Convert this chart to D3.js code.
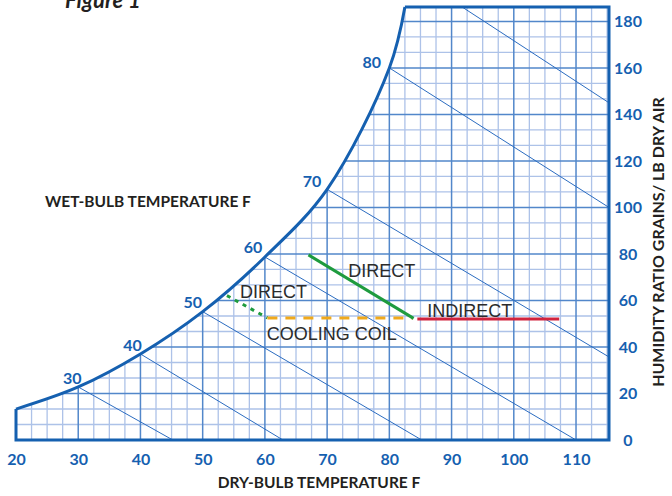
<!DOCTYPE html>
<html><head><meta charset="utf-8">
<script src="https://cdn.jsdelivr.net/npm/d3@7"></script>
<style>
html,body{margin:0;padding:0;background:#fff;}
svg{display:block;}
</style></head>
<body>
<svg id="chart" width="672" height="496"></svg>
<script>
// ---------- data ----------
const xTicks = [20,30,40,50,60,70,80,90,100,110];
const yTicks = [0,20,40,60,80,100,120,140,160,180];
const xDomain = [20,115.3];
const yDomain = [0,186.2];
// saturation curve (dry-bulb F, grains/lb)
const satDB     = [20,30,40,50,60,70,80,82.5];
const satGrains = [13.3,22.8,37,55.2,78.7,107.8,160,186.2];
// wet-bulb lines: start on saturation curve at wbTemps, end points
const wbTemps     = [30,40,50,60,70,80];
const wbEndDB     = [45.2,62.9,85.2,110,115.3,115.3];
const wbEndGrains = [0,0,0,0,35.7,100];
// extra wet-bulb line entering from top
const extraWbDB     = [91.7,115.3];
const extraWbGrains = [186.2,145];
// processes
const processNames  = ["DIRECT","COOLING COIL","DIRECT","INDIRECT"];
const processStartDB = [53.9,60.4,67.0,84.5];
const processStartGr = [62.1,52.5,79.6,52.0];
const processEndDB   = [60.4,83.8,83.9,107.3];
const processEndGr   = [52.5,52.5,52.3,52.0];
const processLabelDB = [56.0,60.3,73.4,86.1];
const processLabelGr = [61.1,43.0,70.1,52.9];
const processColors  = ["#1e9b3e","#f0a91c","#1e9b3e","#d1233d"];
const processDash    = ["4,5","10,8",null,null];

// ---------- drawing ----------
const svg = d3.select("#chart");
const BLUE = "#1560b0";
const x = d3.scaleLinear().domain(xDomain).range([16,609]);
const y = d3.scaleLinear().domain(yDomain).range([440,7]);

const satPts = satDB.map((d,i)=>[d,satGrains[i]]);
const satLine = d3.line().x(d=>x(d[0])).y(d=>y(d[1])).curve(d3.curveCatmullRom.alpha(0.5));
const satPath = satLine(satPts);
const areaPath = satPath + `L${x(xDomain[1])},${y(yDomain[1])}L${x(xDomain[1])},${y(0)}L${x(xDomain[0])},${y(0)}Z`;

svg.append("defs").append("clipPath").attr("id","area")
  .append("path").attr("d", areaPath);

const grid = svg.append("g").attr("clip-path","url(#area)");
// minor grid
const vMinor = d3.range(20, 115.3, 2.5).filter(v => v % 10 !== 0);
const hMinor = d3.range(0, 186.2, 20/3).filter((v,i) => i % 3 !== 0);
grid.selectAll(".vmin").data(vMinor).join("line")
  .attr("x1",d=>x(d)).attr("x2",d=>x(d)).attr("y1",y(0)).attr("y2",y(yDomain[1]))
  .attr("stroke","#adc2e8").attr("stroke-width",1.3);
grid.selectAll(".hmin").data(hMinor).join("line")
  .attr("y1",d=>y(d)).attr("y2",d=>y(d)).attr("x1",x(xDomain[0])).attr("x2",x(xDomain[1]))
  .attr("stroke","#adc2e8").attr("stroke-width",1.3);
// major grid
grid.selectAll(".vmaj").data(xTicks).join("line")
  .attr("x1",d=>x(d)).attr("x2",d=>x(d)).attr("y1",y(0)).attr("y2",y(yDomain[1]))
  .attr("stroke","#5287ca").attr("stroke-width",1.5);
grid.selectAll(".hmaj").data(yTicks).join("line")
  .attr("y1",d=>y(d)).attr("y2",d=>y(d)).attr("x1",x(xDomain[0])).attr("x2",x(xDomain[1]))
  .attr("stroke","#5287ca").attr("stroke-width",1.5);
// wet-bulb lines
const wbLines = wbTemps.map((t,i)=>({x1:t, y1:satGrains[satDB.indexOf(t)], x2:wbEndDB[i], y2:wbEndGrains[i]}));
wbLines.push({x1:extraWbDB[0], y1:extraWbGrains[0], x2:extraWbDB[1], y2:extraWbGrains[1]});
grid.selectAll(".wb").data(wbLines).join("line")
  .attr("x1",d=>x(d.x1)).attr("y1",d=>y(d.y1)).attr("x2",d=>x(d.x2)).attr("y2",d=>y(d.y2))
  .attr("stroke","#2b6cc0").attr("stroke-width",1);

// border + saturation curve
svg.append("path").attr("d", satPath).attr("fill","none").attr("stroke",BLUE).attr("stroke-width",3);
svg.append("path")
  .attr("d", `M${x(satDB[satDB.length-1])},${y(yDomain[1])}L${x(xDomain[1])},${y(yDomain[1])}L${x(xDomain[1])},${y(0)}L${x(xDomain[0])},${y(0)}L${x(xDomain[0])},${y(satGrains[0])}`)
  .attr("fill","none").attr("stroke",BLUE).attr("stroke-width",3).attr("stroke-linejoin","miter");

// wet-bulb labels
wbTemps.forEach((t,i)=>{
  const k = satDB.indexOf(t);
  const p0 = [x(satDB[k-1]), y(satGrains[k-1])], p1=[x(satDB[k+1]), y(satGrains[k+1])];
  let tx = p1[0]-p0[0], ty = p1[1]-p0[1]; const L = Math.hypot(tx,ty); tx/=L; ty/=L;
  const nx = ty, ny = -tx; // up-left normal
  const d = 10 + 7*(i/(wbTemps.length-1));
  const cx = x(t) + nx*d - 2, cy = y(satGrains[k]) + ny*d + 1;
  svg.append("text").attr("x",cx).attr("y",cy+5.5).attr("text-anchor","middle")
    .attr("font-family","Lato, sans-serif").attr("font-weight",700).attr("font-size",16)
    .attr("fill",BLUE).text(t);
});

// axes tick labels
const xa = svg.append("g").attr("transform",`translate(0,${y(0)})`)
  .call(d3.axisBottom(x).tickValues(xTicks).tickSize(0).tickPadding(14).tickFormat(d3.format("d")));
xa.select(".domain").remove();
xa.selectAll("text").attr("font-family","Lato, sans-serif").attr("font-weight",700).attr("font-size",16).attr("fill",BLUE);
const ya = svg.append("g").attr("transform",`translate(628,0)`)
  .call(d3.axisRight(y).tickValues(yTicks).tickSize(0).tickPadding(0));
ya.select(".domain").remove();
ya.selectAll("text").attr("text-anchor","middle").attr("font-family","Lato, sans-serif").attr("font-weight",700).attr("font-size",16).attr("fill",BLUE);

// titles
const DARK = "#231f20";
svg.append("text").attr("x",65).attr("y",8).attr("font-family","Lato, sans-serif")
  .attr("font-weight",700).attr("font-style","italic").attr("font-size",22).attr("fill",DARK).text("Figure 1");
svg.append("text").attr("x",45).attr("y",207).attr("font-family","Lato, sans-serif")
  .attr("font-weight",700).attr("font-size",15.5).attr("fill",DARK).text("WET-BULB TEMPERATURE F");
svg.append("text").attr("x",319).attr("y",488).attr("text-anchor","middle").attr("font-family","Lato, sans-serif")
  .attr("font-weight",700).attr("font-size",15.5).attr("fill",DARK).text("DRY-BULB TEMPERATURE F");
svg.append("text").attr("transform","translate(664,242) rotate(-90)").attr("text-anchor","middle")
  .attr("font-family","Lato, sans-serif").attr("font-weight",700).attr("font-size",16).attr("fill",DARK)
  .text("HUMIDITY RATIO GRAINS/ LB DRY AIR");

// processes
processNames.forEach((n,i)=>{
  const ln = svg.append("line")
    .attr("x1",x(processStartDB[i])).attr("y1",y(processStartGr[i]))
    .attr("x2",x(processEndDB[i])).attr("y2",y(processEndGr[i]))
    .attr("stroke",processColors[i]).attr("stroke-width",3);
  if (processDash[i]) ln.attr("stroke-dasharray",processDash[i]);
});
processNames.forEach((n,i)=>{
  svg.append("text").attr("x",x(processLabelDB[i])).attr("y",y(processLabelGr[i]))
    .attr("font-family","'Liberation Sans', Arial, sans-serif").attr("font-size",18).attr("fill","#2b2b2b").text(n);
});
</script>
</body></html>
